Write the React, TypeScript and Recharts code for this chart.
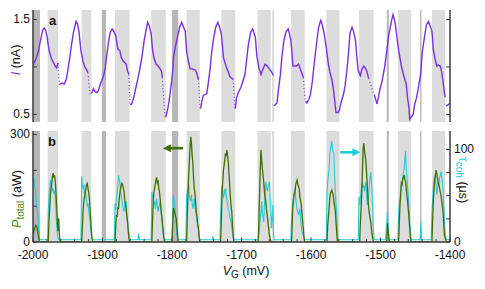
import React from "react";
import {
  ComposedChart,
  Line,
  ReferenceArea,
  ReferenceLine,
  XAxis,
  YAxis,
} from "recharts";

// ============================================
// Data
// ============================================

// gate voltage ticks (mV)
const gateTicks = [
  -2000, -1980, -1960, -1940, -1920, -1900, -1880, -1860, -1840, -1820, -1800,
  -1780, -1760, -1740, -1720, -1700, -1680, -1660, -1640, -1620, -1600, -1580,
  -1560, -1540, -1520, -1500, -1480, -1460, -1440, -1420, -1400,
];

// shaded gate windows [from, to] in mV
const lightBands: [number, number][] = [
  [-1979, -1964], [-1930, -1916], [-1882, -1861], [-1830, -1809], [-1779, -1760],
  [-1729, -1709], [-1677, -1658], [-1656, -1653], [-1629, -1609], [-1578, -1559],
  [-1531, -1510], [-1475, -1456], [-1426, -1407],
];
const darkBands: [number, number][] = [
  [-2000, -1990], [-1901, -1895], [-1800, -1791], [-1491, -1488], [-1443, -1441],
];

// panel a: current I (nA); null = gap in the trace
const currentNa: [number, number | null][] = [
  [-2000, 1.02], [-1996, 1.08], [-1992, 1.17], [-1989, 1.29], [-1986, 1.39], [-1984, 1.41], [-1982, 1.39],
  [-1980, 1.33], [-1977, 1.18], [-1974, 1.1], [-1971, 1.05], [-1968, 1.01], [-1966, 0.99], [-1964, 1.04],
  [-1963, null],
  [-1961, 0.82], [-1958, 0.83], [-1955, 0.82], [-1952, 0.87], [-1950, 0.96], [-1947, 1.1], [-1945, 1.21],
  [-1942, 1.36], [-1940, 1.42], [-1938, 1.48], [-1936, 1.45], [-1934, 1.38], [-1931, 1.17], [-1928, 1.06],
  [-1926, 1.01], [-1923, 0.97], [-1921, 0.94],
  [-1920, null],
  [-1916, 0.72], [-1913, 0.77], [-1911, 0.74], [-1908, 0.73], [-1906, 0.75], [-1903, 0.82], [-1898, 0.92],
  [-1896, 0.99], [-1894, 1.12], [-1891, 1.28], [-1889, 1.36], [-1886, 1.4], [-1884, 1.38], [-1881, 1.33],
  [-1878, 1.19], [-1875, 1.17], [-1873, 1.1], [-1870, 1.06], [-1866, 1.03], [-1864, 0.96], [-1862, 0.92],
  [-1861, null],
  [-1860, 0.6], [-1858, 0.61], [-1855, 0.68], [-1852, 0.78], [-1849, 0.88], [-1847, 0.95], [-1843, 1.12],
  [-1840, 1.28], [-1837, 1.4], [-1835, 1.47], [-1833, 1.44], [-1830, 1.35], [-1828, 1.18], [-1826, 1.1],
  [-1823, 1.03], [-1820, 1.01], [-1817, 0.98], [-1815, 0.95], [-1814, 0.89],
  [-1812, null],
  [-1809, 0.47], [-1806, 0.56], [-1804, 0.65], [-1801, 0.82], [-1799, 0.96], [-1798, 1.1], [-1795, 1.22],
  [-1791, 1.35], [-1789, 1.42], [-1786, 1.47], [-1784, 1.43], [-1781, 1.38], [-1779, 1.17], [-1777, 1.08],
  [-1774, 0.98], [-1771, 0.98], [-1767, 0.97], [-1765, 0.95], [-1762, 0.87],
  [-1761, null],
  [-1759, 0.56], [-1757, 0.64], [-1755, 0.7], [-1752, 0.71], [-1750, 0.72], [-1748, 0.82], [-1745, 0.99],
  [-1743, 1.15], [-1740, 1.31], [-1737, 1.42], [-1734, 1.47], [-1732, 1.43], [-1729, 1.35], [-1726, 1.1],
  [-1724, 1.05], [-1721, 0.98], [-1719, 0.95], [-1717, 0.9], [-1714, 0.88], [-1712, 0.87],
  [-1711, null],
  [-1709, 0.56], [-1707, 0.68], [-1704, 0.74], [-1701, 0.78], [-1698, 0.85], [-1695, 0.92], [-1693, 1.05],
  [-1690, 1.24], [-1687, 1.36], [-1684, 1.4], [-1682, 1.36], [-1680, 1.31], [-1678, 1.12], [-1675, 0.99],
  [-1672, 0.92], [-1669, 0.98], [-1666, 1.03], [-1663, 1.01], [-1660, 0.98], [-1657, 0.95], [-1654, 0.91],
  [-1653.5, null],
  [-1653, 0.59], [-1649, 0.62], [-1647, 0.75], [-1644, 0.92], [-1642, 1.1], [-1639, 1.28], [-1636, 1.37],
  [-1633, 1.4], [-1631, 1.35], [-1629, 1.28], [-1627, 1.12], [-1626, 1.01], [-1623, 1.01], [-1621, 1.01],
  [-1618, 1.03], [-1615, 0.97], [-1611, 0.89],
  [-1610, null],
  [-1608, 0.64], [-1606, 0.62], [-1603, 0.66], [-1601, 0.7], [-1598, 0.85], [-1595, 1.06], [-1592, 1.25],
  [-1589, 1.42], [-1586, 1.49], [-1584, 1.45], [-1581, 1.35], [-1578, 1.2], [-1575, 1.03], [-1573, 0.95],
  [-1570, 0.87], [-1568, 0.78], [-1566, 0.65], [-1564, 0.52], [-1561, 0.52], [-1559, 0.55], [-1557, 0.62],
  [-1553, 0.72], [-1551, 0.8], [-1548, 0.99], [-1546, 1.15], [-1544, 1.35], [-1541, 1.42], [-1539, 1.38],
  [-1536, 1.28], [-1534, 1.1], [-1532, 0.96], [-1529, 0.91], [-1527, 0.97], [-1524, 1.01], [-1522, 0.99],
  [-1520, 0.96], [-1517, 0.88],
  [-1513, null],
  [-1509, 0.71], [-1507, 0.66], [-1505, 0.61], [-1503, 0.68], [-1501, 0.76], [-1498, 0.84], [-1494, 1.0],
  [-1491, 1.17], [-1488, 1.34], [-1484, 1.49], [-1482, 1.55], [-1479, 1.47], [-1477, 1.35], [-1474, 1.18],
  [-1470, 1.01], [-1467, 0.92], [-1463, 0.82], [-1461, 0.67], [-1459, 0.57], [-1458, 0.45], [-1453, 0.5],
  [-1451, 0.6], [-1448, 0.68], [-1445, 0.8], [-1442, 0.94], [-1440, 1.15], [-1436, 1.35], [-1434, 1.44],
  [-1431, 1.48], [-1429, 1.44], [-1426, 1.38], [-1424, 1.18], [-1422, 1.1], [-1419, 1.01], [-1417, 1.02],
  [-1414, 1.01], [-1412, 0.95], [-1410, 0.84], [-1407, 0.68],
  [-1406.5, null],
  [-1406, 0.59], [-1403, 0.6], [-1400, 0.62],
];

// sparse points across the jumps in panel a
const currentDrops: [number, number | null][] = [
  [-1964, 1.04], [-1962, 0.78], [-1961.5, null],
  [-1921, 0.94], [-1918, 0.7], [-1917, null],
  [-1862, 0.92], [-1860.5, 0.6], [-1860.2, null],
  [-1814, 0.89], [-1810, 0.47], [-1809.5, null],
  [-1762, 0.87], [-1759.5, 0.56], [-1759.2, null],
  [-1712, 0.87], [-1709.5, 0.56], [-1709.2, null],
  [-1611, 0.89], [-1608.5, 0.64], [-1608.2, null],
  [-1517, 0.88], [-1509.5, 0.71], [-1509.2, null],
];

// panel b: total power P (aW)
const powerAw: [number, number][] = [
  [-2000, 20], [-1998, 35], [-1996, 47], [-1994, 40], [-1992, 15], [-1991, 0],
  [-1978, 0], [-1977, 60], [-1976, 94], [-1975, 130], [-1974, 150], [-1973, 165], [-1972, 185], [-1971, 192],
  [-1970, 180], [-1969, 186], [-1968, 172], [-1967, 140], [-1966, 103], [-1965, 60], [-1964, 30], [-1963, 66],
  [-1962, 20], [-1961, 0],
  [-1930, 0], [-1929, 40], [-1928, 85], [-1927, 110], [-1926, 125], [-1925, 135], [-1924, 148], [-1923, 160],
  [-1922, 164], [-1921, 152], [-1920, 140], [-1919, 125], [-1918, 95], [-1917, 66], [-1916, 30], [-1915, 10],
  [-1914, 0],
  [-1882, 0], [-1881, 40], [-1880, 75], [-1879, 70], [-1878, 95], [-1877, 94], [-1876, 120], [-1875, 136],
  [-1874, 150], [-1873, 158], [-1872, 164], [-1871, 160], [-1870, 150], [-1869, 141], [-1868, 118], [-1867, 105],
  [-1866, 94], [-1865, 70], [-1864, 57], [-1863, 30], [-1862, 10], [-1861, 0],
  [-1829, 0], [-1828, 60], [-1827, 113], [-1826, 140], [-1825, 150], [-1824, 162], [-1823, 175], [-1822, 178],
  [-1821, 165], [-1820, 169], [-1819, 150], [-1818, 140], [-1817, 120], [-1816, 95], [-1815, 75], [-1814, 55],
  [-1813, 38], [-1812, 15], [-1811, 5], [-1810, 0],
  [-1800, 0], [-1799, 50], [-1798, 94], [-1797, 90], [-1796, 80], [-1795, 72], [-1794, 66], [-1793, 45],
  [-1792, 20], [-1791, 0],
  [-1779, 0], [-1778, 70], [-1777, 131], [-1776, 190], [-1775, 224], [-1774, 265], [-1773, 294], [-1772, 275],
  [-1771, 243], [-1770, 220], [-1769, 180], [-1768, 150], [-1767, 135], [-1766, 110], [-1765, 85], [-1764, 70],
  [-1763, 50], [-1762, 38], [-1761, 15], [-1760, 0],
  [-1730, 0], [-1729, 60], [-1728, 131], [-1727, 170], [-1726, 200], [-1725, 215], [-1724, 230], [-1723, 248],
  [-1722, 240], [-1721, 257], [-1720, 240], [-1719, 224], [-1718, 190], [-1717, 159], [-1716, 125], [-1715, 100],
  [-1714, 85], [-1713, 50], [-1712, 20], [-1711, 0],
  [-1676, 0], [-1675, 60], [-1674, 131], [-1673, 200], [-1672, 257], [-1671, 230], [-1670, 206], [-1669, 185],
  [-1668, 169], [-1667, 140], [-1666, 125], [-1665, 113], [-1664, 90], [-1663, 75], [-1662, 57], [-1661, 40],
  [-1660, 19], [-1658, 5], [-1657, 0],
  [-1628, 0], [-1627, 55], [-1626, 103], [-1625, 120], [-1624, 135], [-1623, 141], [-1622, 160], [-1621, 168],
  [-1620, 173], [-1619, 160], [-1618, 155], [-1617, 150], [-1616, 125], [-1615, 115], [-1614, 103], [-1613, 80],
  [-1612, 57], [-1611, 35], [-1610, 12], [-1609, 0],
  [-1577, 0], [-1576, 45], [-1575, 70], [-1574, 94], [-1573, 120], [-1572, 136], [-1571, 140], [-1570, 145],
  [-1569, 138], [-1568, 131], [-1567, 110], [-1566, 100], [-1565, 85], [-1564, 55], [-1563, 25], [-1562, 0],
  [-1530, 0], [-1529, 50], [-1528, 90], [-1527, 131], [-1526, 200], [-1525, 262], [-1524, 276], [-1523, 255],
  [-1522, 240], [-1521, 224], [-1520, 190], [-1519, 159], [-1518, 120], [-1517, 94], [-1516, 80], [-1515, 65],
  [-1514, 57], [-1513, 35], [-1512, 20], [-1511, 8], [-1510, 0],
  [-1491, 0], [-1490, 52], [-1489, 30], [-1487, 0],
  [-1474, 0], [-1473, 50], [-1472, 103], [-1471, 130], [-1470, 164], [-1469, 160], [-1468, 175], [-1467, 180],
  [-1466, 187], [-1465, 175], [-1464, 169], [-1463, 150], [-1462, 130], [-1461, 113], [-1460, 90], [-1459, 66],
  [-1458, 40], [-1457, 15], [-1456, 0],
  [-1426, 0], [-1425, 60], [-1424, 113], [-1423, 150], [-1422, 175], [-1421, 187], [-1420, 201], [-1419, 190],
  [-1418, 178], [-1417, 165], [-1416, 158], [-1415, 150], [-1414, 140], [-1413, 131], [-1412, 115], [-1411, 100],
  [-1410, 85], [-1409, 50], [-1408, 19], [-1406, 5], [-1405, 0], [-1400, 0],
];

// panel b: coherence time tau (us)
const coherenceUs: [number, number][] = [
  [-2000, 65], [-1999, 70], [-1998, 61], [-1997, 58], [-1996, 55], [-1995, 40], [-1994, 35], [-1993, 30],
  [-1992, 18], [-1991, 4], [-1990, 2.5],
  [-1979, 2.5], [-1978, 33], [-1977, 50], [-1976, 58], [-1975, 67], [-1974, 62], [-1973, 61], [-1972, 55],
  [-1971, 58], [-1970, 52], [-1969, 54], [-1968, 51], [-1967, 35], [-1966, 18], [-1965, 10], [-1964, 4], [-1963, 2.5],
  [-1931, 2.5], [-1930, 71], [-1929, 60], [-1928, 58], [-1927, 62], [-1926, 52], [-1925, 55], [-1924, 51],
  [-1923, 45], [-1922, 40], [-1921, 42], [-1920, 35], [-1919, 29], [-1918, 24], [-1917, 15], [-1916, 8],
  [-1915, 3], [-1914, 2.5],
  [-1883, 2.5], [-1882, 42], [-1881, 35], [-1880, 48], [-1879, 51], [-1878, 60], [-1877, 72], [-1876, 68],
  [-1875, 65], [-1874, 55], [-1873, 50], [-1872, 44], [-1871, 40], [-1870, 36], [-1869, 33], [-1868, 38],
  [-1867, 42], [-1866, 44], [-1865, 30], [-1864, 22], [-1863, 15], [-1862, 10], [-1861, 7], [-1860, 2.5],
  [-1849, 2.5], [-1848, 9], [-1847, 2.5],
  [-1830, 2.5], [-1829, 54], [-1828, 50], [-1827, 47], [-1826, 40], [-1825, 44], [-1824, 36], [-1823, 42],
  [-1822, 47], [-1821, 38], [-1820, 33], [-1819, 38], [-1818, 40], [-1817, 43], [-1816, 35], [-1815, 29],
  [-1814, 20], [-1813, 11], [-1812, 6], [-1811, 3], [-1810, 2.5],
  [-1800, 2.5], [-1799, 30], [-1798, 51], [-1797, 45], [-1796, 40], [-1795, 30], [-1794, 18], [-1793, 8],
  [-1792, 3], [-1791, 2.5],
  [-1780, 2.5], [-1779, 51], [-1778, 55], [-1777, 58], [-1776, 63], [-1775, 50], [-1774, 47], [-1773, 44],
  [-1772, 51], [-1771, 42], [-1770, 36], [-1769, 40], [-1768, 47], [-1767, 38], [-1766, 33], [-1765, 29],
  [-1764, 22], [-1763, 18], [-1762, 15], [-1761, 7], [-1760, 3], [-1759, 2.5],
  [-1742, 2.5], [-1741, 6], [-1740, 2.5],
  [-1731, 2.5], [-1730, 33], [-1729, 50], [-1728, 61], [-1727, 55], [-1726, 48], [-1725, 51], [-1724, 56],
  [-1723, 58], [-1722, 50], [-1721, 45], [-1720, 40], [-1719, 36], [-1718, 33], [-1717, 28], [-1716, 25],
  [-1715, 22], [-1714, 15], [-1713, 10], [-1712, 5], [-1711, 3], [-1710, 2.5],
  [-1676, 2.5], [-1675, 8], [-1674, 15], [-1673, 25], [-1672, 33], [-1671, 44], [-1670, 30], [-1669, 28],
  [-1668, 22], [-1667, 40], [-1666, 51], [-1665, 65], [-1664, 60], [-1663, 55], [-1662, 58], [-1661, 62],
  [-1660, 65], [-1659, 50], [-1658, 40], [-1657, 15], [-1656, 25], [-1655, 40], [-1654, 10], [-1653, 2.5],
  [-1629, 2.5], [-1628, 22], [-1627, 35], [-1626, 44], [-1625, 50], [-1624, 55], [-1623, 58], [-1622, 48],
  [-1621, 40], [-1620, 35], [-1619, 32], [-1618, 29], [-1617, 33], [-1616, 36], [-1615, 25], [-1614, 18],
  [-1613, 12], [-1612, 9], [-1611, 7], [-1610, 4], [-1609, 2.5],
  [-1578, 2.5], [-1577, 51], [-1576, 65], [-1575, 72], [-1574, 80], [-1573, 92], [-1572, 101], [-1571, 105],
  [-1570, 109], [-1569, 100], [-1568, 98], [-1567, 95], [-1566, 71], [-1565, 55], [-1564, 40], [-1563, 33],
  [-1562, 15], [-1561, 3], [-1560, 2.5],
  [-1532, 2.5], [-1531, 49], [-1530, 40], [-1529, 47], [-1528, 55], [-1527, 60], [-1526, 65], [-1525, 58],
  [-1524, 61], [-1523, 55], [-1522, 60], [-1521, 65], [-1520, 50], [-1519, 40], [-1518, 45], [-1517, 51],
  [-1516, 60], [-1515, 70], [-1514, 76], [-1513, 65], [-1512, 51], [-1511, 30], [-1510, 10], [-1509, 3], [-1508, 2.5],
  [-1493, 2.5], [-1492, 10], [-1491, 20], [-1490, 33], [-1489, 15], [-1488, 3], [-1487, 2.5],
  [-1475, 2.5], [-1474, 29], [-1473, 40], [-1472, 47], [-1471, 55], [-1470, 60], [-1469, 65], [-1468, 70],
  [-1467, 75], [-1466, 80], [-1465, 90], [-1464, 98], [-1463, 80], [-1462, 70], [-1461, 60], [-1460, 51],
  [-1459, 35], [-1458, 22], [-1457, 10], [-1456, 3], [-1455, 2.5],
  [-1443, 2.5], [-1442, 22], [-1441, 2.5],
  [-1427, 2.5], [-1426, 33], [-1425, 45], [-1424, 58], [-1423, 65], [-1422, 70], [-1421, 72], [-1420, 60],
  [-1419, 51], [-1418, 58], [-1417, 65], [-1416, 60], [-1415, 70], [-1414, 72], [-1413, 76], [-1412, 70],
  [-1411, 65], [-1410, 58], [-1409, 40], [-1408, 22], [-1407, 10], [-1406, 5], [-1405, 3], [-1404, 2.5], [-1400, 2.5],
];

// axis ticks
const currentTicks = [0.5, 1, 1.5];
const currentLabels = [0.5, 1.5];
const powerTicks = [0, 100, 200, 300];
const powerLabels = [0, 300];
const tauTicks = [0, 25, 50, 75, 100];
const tauLabels = [0, 100];

// ============================================
// Styling
// ============================================

const FONT = "'Liberation Sans', Arial, Helvetica, sans-serif";
const FRAME = "#3c3c3c";
const PURPLE = "#7b2fe0";
const GREEN = "#3f6f00";
const GREEN_LABEL = "#4f8c10";
const CYAN = "#22ccd6";
const LIGHT_GRAY = "#dcdcdc";
const DARK_GRAY = "#b7b7b7";

const axisLine = { stroke: FRAME, strokeWidth: 1.5 };

const toPoints = (rows: [number, number | null][]) => rows.map(([x, y]) => ({ x, y }));

// ============================================
// Ticks (inward, as in the figure)
// ============================================

interface TickProps {
  x?: number;
  y?: number;
  payload?: { value: number };
}

function XTick({ x = 0, y = 0, payload, side, labels }: TickProps & { side: "top" | "bottom"; labels?: boolean }) {
  const v = Number(payload?.value ?? 0);
  const major = Math.abs(v) % 100 === 0;
  const len = major ? 4.5 : 3;
  const dir = side === "bottom" ? -1 : 1;
  return (
    <g>
      <line x1={x} x2={x} y1={y} y2={y + dir * len} stroke={FRAME} strokeWidth={1} />
      {labels && major && (
        <text x={x} y={y + 16.5} textAnchor="middle" fontSize={12} fontFamily={FONT} fill="#111">
          {v}
        </text>
      )}
    </g>
  );
}

function YTick({
  x = 0,
  y = 0,
  payload,
  side,
  labeled,
  fmt,
}: TickProps & { side: "left" | "right"; labeled: number[]; fmt?: (v: number) => string }) {
  const v = Number(payload?.value ?? 0);
  const dir = side === "left" ? 1 : -1;
  const show = labeled.some((l) => Math.abs(l - v) < 1e-6);
  return (
    <g>
      <line x1={x} x2={x + dir * 4} y1={y} y2={y} stroke={FRAME} strokeWidth={1} />
      {show && (
        <text
          x={side === "left" ? x - 3 : x + 4}
          y={y + 3.5}
          textAnchor={side === "left" ? "end" : "start"}
          fontSize={12}
          fontFamily={FONT}
          fill="#111"
        >
          {fmt ? fmt(v) : v}
        </text>
      )}
    </g>
  );
}

function Arrow(props: any) {
  const { x1, y1, x2, y2, color } = props;
  const dir = Math.sign(x2 - x1);
  const head = 8;
  return (
    <g>
      <line x1={x1} y1={y1} x2={x2 - dir * head * 0.7} y2={y2} stroke={color} strokeWidth={2.6} />
      <polygon points={`${x2},${y2} ${x2 - dir * head},${y2 - 4} ${x2 - dir * head},${y2 + 4}`} fill={color} />
    </g>
  );
}

function bands() {
  return [
    ...lightBands.map(([a, b], i) => (
      <ReferenceArea key={`l${i}`} x1={a} x2={b} yAxisId="l" fill={LIGHT_GRAY} fillOpacity={1} stroke="none" ifOverflow="hidden" />
    )),
    ...darkBands.map(([a, b], i) => (
      <ReferenceArea key={`d${i}`} x1={a} x2={b} yAxisId="l" fill={DARK_GRAY} fillOpacity={1} stroke="none" ifOverflow="hidden" />
    )),
  ];
}

const common = {
  tickSize: 0,
  tickMargin: 0,
  tickLine: false,
  axisLine,
  interval: 0 as const,
  allowDataOverflow: true,
};

// ============================================
// Component
// ============================================

export default function App() {
  const current = toPoints(currentNa);
  const drops = toPoints(currentDrops);
  const power = toPoints(powerAw);
  const tau = toPoints(coherenceUs);

  return (
    <div style={{ position: "absolute", left: 0, top: 0, width: 485, height: 289, background: "#fff", fontFamily: FONT }}>
      {/* panel a */}
      <div style={{ position: "absolute", left: 0, top: 0 }}>
        <ComposedChart width={485} height={124} margin={{ top: 10, right: 0, bottom: 2, left: 0 }}>
          {bands()}
          <XAxis
            {...common}
            type="number"
            dataKey="x"
            domain={[-2000, -1400]}
            ticks={gateTicks}
            height={0}
            tick={(p: any) => <XTick {...p} side="bottom" />}
          />
          <XAxis
            {...common}
            xAxisId="top"
            orientation="top"
            type="number"
            dataKey="x"
            domain={[-2000, -1400]}
            ticks={gateTicks}
            height={0}
            tick={(p: any) => <XTick {...p} side="top" />}
          />
          <YAxis
            {...common}
            yAxisId="l"
            type="number"
            domain={[0.42, 1.6]}
            ticks={currentTicks}
            width={33}
            tick={(p: any) => <YTick {...p} side="left" labeled={currentLabels} fmt={(v) => v.toFixed(1)} />}
          />
          <YAxis
            {...common}
            yAxisId="r"
            orientation="right"
            type="number"
            domain={[0.42, 1.6]}
            ticks={currentTicks}
            width={35}
            tick={(p: any) => <YTick {...p} side="right" labeled={[]} />}
          />
          <Line
            yAxisId="l"
            data={drops}
            dataKey="y"
            type="linear"
            stroke={PURPLE}
            strokeWidth={1.2}
            strokeDasharray="1 2.5"
            dot={false}
            connectNulls={false}
            isAnimationActive={false}
          />
          <Line
            yAxisId="l"
            data={current}
            dataKey="y"
            type="linear"
            stroke={PURPLE}
            strokeWidth={1.4}
            dot={false}
            connectNulls={false}
            isAnimationActive={false}
          />
        </ComposedChart>
      </div>

      {/* panel b */}
      <div style={{ position: "absolute", left: 0, top: 124 }}>
        <ComposedChart width={485} height={165} margin={{ top: 7, right: 0, bottom: 0, left: 0 }}>
          {bands()}
          <XAxis
            {...common}
            type="number"
            dataKey="x"
            domain={[-2000, -1400]}
            ticks={gateTicks}
            height={47}
            tick={(p: any) => <XTick {...p} side="bottom" labels />}
          />
          <XAxis
            {...common}
            xAxisId="top"
            orientation="top"
            type="number"
            dataKey="x"
            domain={[-2000, -1400]}
            ticks={gateTicks}
            height={0}
            tick={(p: any) => <XTick {...p} side="top" />}
          />
          <YAxis
            {...common}
            yAxisId="l"
            type="number"
            domain={[0, 310]}
            ticks={powerTicks}
            width={33}
            tick={(p: any) => <YTick {...p} side="left" labeled={powerLabels} />}
          />
          <YAxis
            {...common}
            yAxisId="r"
            orientation="right"
            type="number"
            domain={[0, 120]}
            ticks={tauTicks}
            width={35}
            tick={(p: any) => <YTick {...p} side="right" labeled={tauLabels} />}
          />
          <Line
            yAxisId="r"
            data={tau}
            dataKey="y"
            type="linear"
            stroke={CYAN}
            strokeWidth={1.1}
            dot={false}
            isAnimationActive={false}
          />
          <Line
            yAxisId="l"
            data={power}
            dataKey="y"
            type="linear"
            stroke={GREEN}
            strokeWidth={1.3}
            dot={false}
            isAnimationActive={false}
          />
          <ReferenceLine
            yAxisId="l"
            segment={[{ x: -1784, y: 262 }, { x: -1813, y: 262 }]}
            shape={(p: any) => <Arrow {...p} color={GREEN} />}
          />
          <ReferenceLine
            yAxisId="r"
            segment={[{ x: -1558, y: 97 }, { x: -1529, y: 97 }]}
            shape={(p: any) => <Arrow {...p} color={CYAN} />}
          />
        </ComposedChart>
      </div>

      {/* titles and panel letters */}
      <svg width={485} height={289} style={{ position: "absolute", left: 0, top: 0, pointerEvents: "none" }}>
        <text x={49} y={24.5} fontSize={13} fontWeight="bold" fontFamily={FONT} fill="#111">a</text>
        <text x={48} y={145.5} fontSize={13} fontWeight="bold" fontFamily={FONT} fill="#111">b</text>

        <text transform="translate(20,60) rotate(-90)" textAnchor="middle" fontSize={12.5} fontFamily={FONT} fill="#111">
          <tspan fill={PURPLE} fontStyle="italic">I</tspan>
          <tspan> (nA)</tspan>
        </text>

        <text transform="translate(21,199) rotate(-90)" textAnchor="middle" fontSize={12.5} fontFamily={FONT} fill="#111">
          <tspan fill={GREEN_LABEL} fontStyle="italic">P</tspan>
          <tspan fill={GREEN_LABEL} fontSize={10} dy={3}>total</tspan>
          <tspan dy={-3}> (aW)</tspan>
        </text>

        <text transform="translate(459,180) rotate(90)" textAnchor="middle" fontSize={12.5} fontFamily={FONT} fill="#111">
          <tspan fill={CYAN}>τ</tspan>
          <tspan fill={CYAN} fontSize={10} dy={3}>coh</tspan>
          <tspan dy={-3}> (μs)</tspan>
        </text>

        <text x={246} y={275} textAnchor="middle" fontSize={12.5} fontFamily={FONT} fill="#111">
          <tspan fontStyle="italic">V</tspan>
          <tspan fontSize={10} dy={3}>G</tspan>
          <tspan dy={-3}> (mV)</tspan>
        </text>
      </svg>
    </div>
  );
}
